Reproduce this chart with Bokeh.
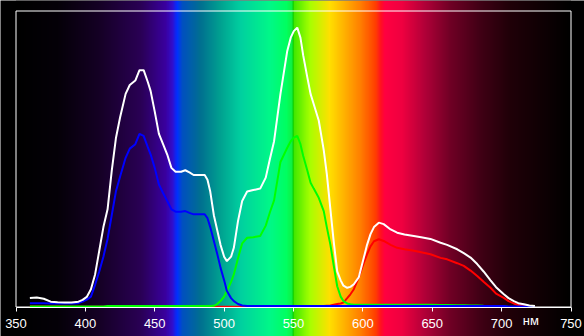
import numpy as np
from bokeh.plotting import figure
from bokeh.models import Range1d, LinearAxis, FixedTicker, ColumnDataSource
from bokeh.core.properties import value
from bokeh.embed import file_html
from bokeh.resources import INLINE

# ---------------- data ----------------
wavelength = [360, 365, 370, 375, 380, 385, 390, 395, 398, 401, 404, 407, 410, 413, 416, 419,
              422, 425, 429, 432, 436, 439, 442, 445, 447, 450, 453, 456, 459, 462, 465, 469,
              472, 475, 478, 482, 486, 488, 490, 492.6, 495, 497.4, 500, 502, 505, 507, 510,
              513, 516.6, 521, 526, 530, 533, 536, 540.6, 545.5, 548, 550.2, 552.7, 555, 557,
              560, 562.3, 564.6, 568.2, 571.8, 574, 576.6, 579, 581.5, 584, 586, 588.7, 591,
              593.5, 597, 600.7, 603, 605.5, 608, 611.5, 615, 620, 624.7, 630, 636.7, 642,
              648.7, 656, 660.7, 668, 672.7, 677.6, 682.4, 687, 692, 696, 701.6, 705, 708.8,
              712, 716, 720, 724]

white = [0.030, 0.032, 0.028, 0.018, 0.016, 0.015, 0.015, 0.018, 0.024, 0.034, 0.060, 0.110,
         0.190, 0.270, 0.330, 0.460, 0.570, 0.640, 0.720, 0.750, 0.765, 0.800, 0.800, 0.760,
         0.730, 0.660, 0.585, 0.550, 0.515, 0.470, 0.457, 0.457, 0.462, 0.455, 0.446, 0.446,
         0.446, 0.430, 0.390, 0.310, 0.260, 0.210, 0.170, 0.155, 0.170, 0.200, 0.290, 0.358,
         0.390, 0.395, 0.400, 0.437, 0.500, 0.560, 0.720, 0.865, 0.910, 0.932, 0.944, 0.910,
         0.850, 0.775, 0.720, 0.685, 0.630, 0.530, 0.450, 0.330, 0.220, 0.120, 0.090, 0.072,
         0.065, 0.068, 0.077, 0.100, 0.167, 0.210, 0.246, 0.270, 0.285, 0.280, 0.262, 0.251,
         0.245, 0.240, 0.236, 0.230, 0.217, 0.210, 0.195, 0.182, 0.167, 0.145, 0.120, 0.090,
         0.067, 0.043, 0.030, 0.020, 0.013, 0.009, 0.005, 0.003]

blue = [0.013, 0.013, 0.013, 0.012, 0.012, 0.012, 0.012, 0.013, 0.018, 0.025, 0.035, 0.075,
        0.120, 0.170, 0.230, 0.310, 0.390, 0.440, 0.504, 0.535, 0.550, 0.585, 0.578, 0.540,
        0.516, 0.470, 0.414, 0.385, 0.358, 0.330, 0.322, 0.322, 0.324, 0.318, 0.313, 0.313,
        0.313, 0.300, 0.270, 0.223, 0.180, 0.133, 0.090, 0.054, 0.030, 0.020, 0.010, 0.005,
        0.003, 0.003, 0.003, 0.003, 0.003, 0.003, 0.003, 0.003, 0.003, 0.003, 0.003, 0.003,
        0.003, 0.003, 0.003, 0.003, 0.003, 0.003, 0.003, 0.003, 0.003, 0.003, 0.003, 0.003,
        0.003, 0.003, 0.003, 0.003, 0.003, 0.003, 0.003, 0.003, 0.003, 0.003, 0.003, 0.003,
        0.003, 0.003, 0.003, 0.003, 0.003, 0.003, 0.003, 0.003, 0.003, 0.003, 0.003, 0.003,
        0.003, 0.003, 0.002, 0.002, 0.002, 0.002, 0.002, 0.002]

green = [0.002, 0.002, 0.002, 0.002, 0.002, 0.002, 0.002, 0.002, 0.002, 0.002, 0.002, 0.002,
         0.002, 0.002, 0.003, 0.003, 0.003, 0.003, 0.003, 0.003, 0.003, 0.003, 0.003, 0.003,
         0.003, 0.003, 0.003, 0.003, 0.003, 0.003, 0.003, 0.003, 0.003, 0.003, 0.003, 0.003,
         0.003, 0.003, 0.003, 0.004, 0.010, 0.020, 0.035, 0.054, 0.085, 0.110, 0.165, 0.215,
         0.234, 0.236, 0.240, 0.275, 0.320, 0.360, 0.490, 0.538, 0.560, 0.572, 0.578, 0.550,
         0.510, 0.460, 0.420, 0.400, 0.369, 0.324, 0.270, 0.210, 0.140, 0.070, 0.035, 0.020,
         0.012, 0.009, 0.008, 0.008, 0.008, 0.008, 0.008, 0.008, 0.008, 0.008, 0.008, 0.008,
         0.008, 0.008, 0.008, 0.008, 0.007, 0.007, 0.006, 0.006, 0.005, 0.005, 0.004, 0.003,
         0.003, 0.002, 0.000, 0.000, 0.000, 0.000, 0.000, 0.000]

red = [0.002, 0.002, 0.002, 0.002, 0.002, 0.002, 0.001, 0.001, 0.001, 0.001, 0.001, 0.001,
       0.001, 0.001, 0.001, 0.001, 0.001, 0.001, 0.001, 0.001, 0.001, 0.001, 0.001, 0.001,
       0.001, 0.001, 0.001, 0.001, 0.001, 0.001, 0.001, 0.001, 0.001, 0.001, 0.001, 0.001,
       0.001, 0.001, 0.001, 0.001, 0.001, 0.001, 0.001, 0.001, 0.001, 0.001, 0.001, 0.001,
       0.001, 0.001, 0.001, 0.001, 0.001, 0.001, 0.001, 0.001, 0.001, 0.001, 0.001, 0.001,
       0.001, 0.001, 0.001, 0.002, 0.002, 0.003, 0.004, 0.005, 0.008, 0.010, 0.012, 0.015,
       0.030, 0.043, 0.060, 0.100, 0.150, 0.178, 0.205, 0.222, 0.229, 0.223, 0.210, 0.200,
       0.195, 0.190, 0.185, 0.178, 0.166, 0.161, 0.148, 0.139, 0.123, 0.105, 0.085, 0.065,
       0.045, 0.031, 0.020, 0.012, 0.007, 0.004, 0.002, 0.001]

tick_values = [350, 400, 450, 500, 550, 600, 650, 700, 750]
unit_label = "нм"

# spectrum background colour stops (wavelength, colour)
spectrum_nm = [350, 380, 410, 440, 458, 463, 466, 470, 483, 497, 512, 533, 545, 549, 549.7,
               550.4, 562, 576, 587, 598, 609, 613, 616, 628, 645, 663, 685, 706, 728, 750]
spectrum_col = ["#000000", "#050008", "#150025", "#2a0055", "#3a00a0", "#3010d0", "#0030ff",
                "#0050c0", "#007090", "#00a090", "#00d0a0", "#00f888", "#00ff60", "#10f040",
                "#00c800", "#40e800", "#a8ff00", "#ffe000", "#ffb000", "#ff8000", "#ff4000",
                "#ff1020", "#ff0040", "#f00040", "#b00038", "#700025", "#400015", "#200008",
                "#100004", "#000000"]

# ---------------- figure ----------------
X0, X1 = tick_values[0], tick_values[-1]
k = 555 / (X1 - X0)
xr = Range1d(X0 - 15.5 / k, X1 + 13.5 / k)
yr = Range1d(-29.5 / 296, 1 + 10.5 / 296)

p = figure(width=584, height=336, x_range=xr, y_range=yr, output_backend="svg",
           toolbar_location=None, x_axis_location=None, y_axis_location=None,
           min_border=0, background_fill_color="black", border_fill_color="black")
p.outline_line_color = None
p.xgrid.visible = False
p.ygrid.visible = False

# spectrum gradient image
N = 1601
wl = np.linspace(X0, X1, N)
rgb = np.array([[int(c[i:i + 2], 16) for i in (1, 3, 5)] for c in spectrum_col], dtype=float)
img = np.empty((2, N), dtype=np.uint32)
view = img.view(dtype=np.uint8).reshape((2, N, 4))
for ch in range(3):
    view[:, :, ch] = np.interp(wl, spectrum_nm, rgb[:, ch]).astype(np.uint8)[None, :]
view[:, :, 3] = 255
p.image_rgba(image=[img], x=X0, y=yr.start, dw=X1 - X0, dh=yr.end - yr.start)

# frame box
p.quad(left=[X0], right=[X1], bottom=[0], top=[1], fill_alpha=0,
       line_color="white", line_width=1)

src = ColumnDataSource(dict(x=wavelength, w=white, b=blue, g=green, r=red))
p.line("x", "r", source=src, line_color="#ff0000", line_width=2)
p.line("x", "g", source=src, line_color="#00ff00", line_width=2)
p.line("x", "b", source=src, line_color="#0000ff", line_width=2)
p.line("x", "w", source=src, line_color="#ffffff", line_width=2)

ax = LinearAxis(fixed_location=0, ticker=FixedTicker(ticks=tick_values), bounds=(X0, X1))
ax.axis_line_color = "white"
ax.axis_line_width = 1
ax.major_tick_line_color = "white"
ax.major_tick_out = 4
ax.major_tick_in = 0
ax.minor_tick_line_color = None
ax.major_label_text_color = "white"
ax.major_label_text_font = "Liberation Sans"
ax.major_label_text_font_size = "13px"
ax.major_label_standoff = 8
p.add_layout(ax, "below")

p.text(x=[721], y=[-13 / 296], text=[unit_label], text_color="white",
       text_font=value("Liberation Sans"), text_font_size="13px",
       text_align="center", text_baseline="middle")

open("out.html", "w").write(file_html(p, INLINE))
